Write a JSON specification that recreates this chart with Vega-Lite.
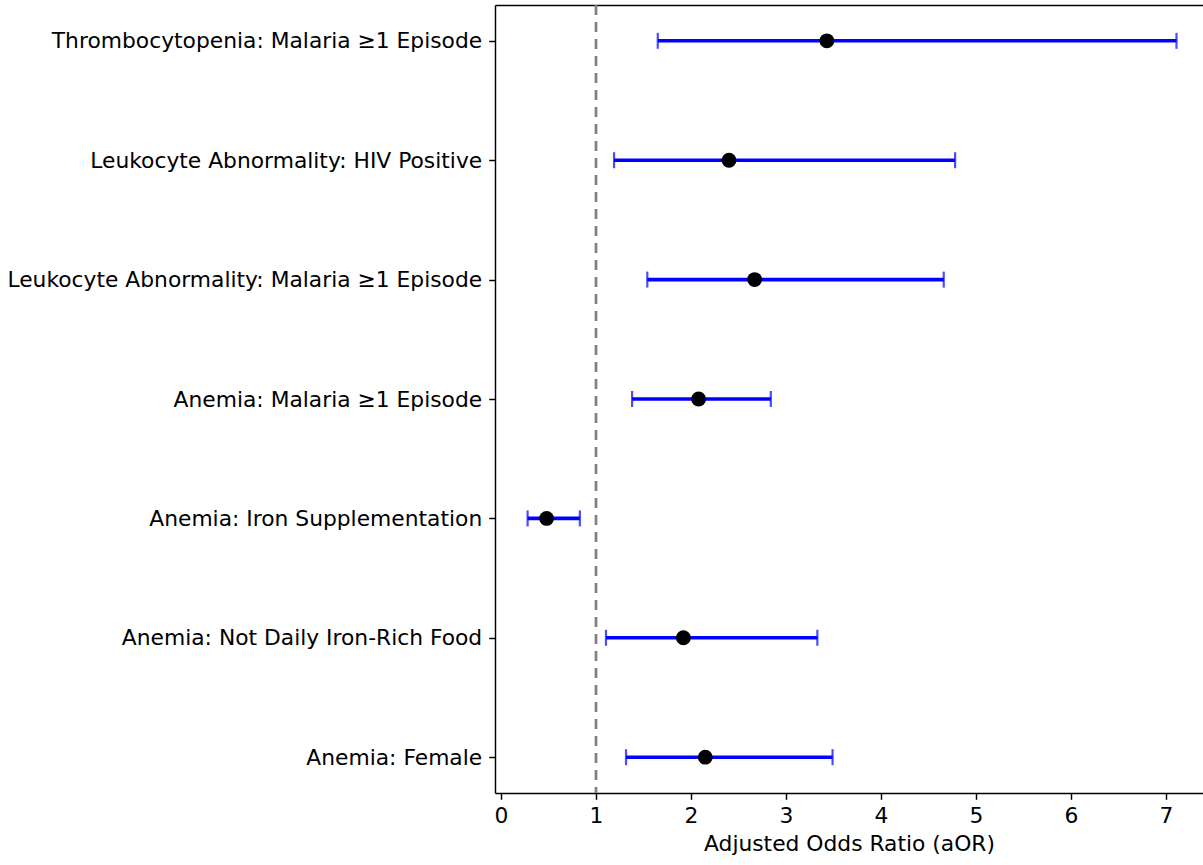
{
  "$schema": "https://vega.github.io/schema/vega-lite/v6.json",
  "width": 708,
  "height": 788,
  "autosize": {"type": "none"},
  "padding": {"left": 495, "top": 5, "right": 0, "bottom": 72},
  "background": "white",
  "config": {
    "view": {"stroke": null},
    "font": "DejaVu Sans",
    "axis": {
      "labelFont": "DejaVu Sans",
      "titleFont": "DejaVu Sans",
      "labelColor": "black",
      "titleColor": "black",
      "domainColor": "black",
      "tickColor": "black",
      "grid": false,
      "labelFontSize": 21.8,
      "titleFontSize": 21.8,
      "titleFontWeight": "normal",
      "tickSize": 6.3,
      "domainWidth": 1.45,
      "tickWidth": 1.45
    }
  },
  "data": {
    "values": [
      {"label": "Thrombocytopenia: Malaria ≥1 Episode", "aor": 3.43, "low": 1.65, "high": 7.11},
      {"label": "Leukocyte Abnormality: HIV Positive", "aor": 2.40, "low": 1.19, "high": 4.78},
      {"label": "Leukocyte Abnormality: Malaria ≥1 Episode", "aor": 2.67, "low": 1.54, "high": 4.66},
      {"label": "Anemia: Malaria ≥1 Episode", "aor": 2.08, "low": 1.38, "high": 2.84},
      {"label": "Anemia: Iron Supplementation", "aor": 0.48, "low": 0.28, "high": 0.83},
      {"label": "Anemia: Not Daily Iron-Rich Food", "aor": 1.92, "low": 1.105, "high": 3.33},
      {"label": "Anemia: Female", "aor": 2.15, "low": 1.316, "high": 3.49}
    ]
  },
  "layer": [
    {
      "data": {"values": [{"ref": 1}]},
      "mark": {"type": "rule", "color": "#808080", "strokeDash": [10, 7], "strokeWidth": 2.7},
      "encoding": {
        "x": {"field": "ref", "type": "quantitative", "scale": {"domain": [-0.063, 7.389], "nice": false, "zero": false},
          "axis": {"orient": "top", "labels": false, "ticks": false, "title": null, "domain": true}}
      }
    },
    {
      "mark": {"type": "rule", "color": "#0000ff", "strokeWidth": 3.6},
      "encoding": {
        "x": {"field": "low", "type": "quantitative", "scale": {"domain": [-0.063, 7.389], "nice": false, "zero": false},
          "axis": {"orient": "bottom", "values": [0, 1, 2, 3, 4, 5, 6, 7], "title": "Adjusted Odds Ratio (aOR)", "labelPadding": 6, "titlePadding": 6, "labelFlush": false}},
        "x2": {"field": "high"},
        "y": {"field": "label", "type": "nominal",
          "sort": ["Thrombocytopenia: Malaria ≥1 Episode", "Leukocyte Abnormality: HIV Positive", "Leukocyte Abnormality: Malaria ≥1 Episode", "Anemia: Malaria ≥1 Episode", "Anemia: Iron Supplementation", "Anemia: Not Daily Iron-Rich Food", "Anemia: Female"],
          "scale": {"type": "point", "padding": 0.3},
          "axis": {"title": null, "labelPadding": 7, "labelLimit": 0}}
      }
    },
    {
      "mark": {"type": "tick", "color": "#0000ff", "size": 16, "thickness": 2.2},
      "encoding": {
        "x": {"field": "low", "type": "quantitative", "axis": null},
        "y": {"field": "label", "type": "nominal", "sort": ["Thrombocytopenia: Malaria ≥1 Episode", "Leukocyte Abnormality: HIV Positive", "Leukocyte Abnormality: Malaria ≥1 Episode", "Anemia: Malaria ≥1 Episode", "Anemia: Iron Supplementation", "Anemia: Not Daily Iron-Rich Food", "Anemia: Female"]}
      }
    },
    {
      "mark": {"type": "tick", "color": "#0000ff", "size": 16, "thickness": 2.2},
      "encoding": {
        "x": {"field": "high", "type": "quantitative", "axis": null},
        "y": {"field": "label", "type": "nominal", "sort": ["Thrombocytopenia: Malaria ≥1 Episode", "Leukocyte Abnormality: HIV Positive", "Leukocyte Abnormality: Malaria ≥1 Episode", "Anemia: Malaria ≥1 Episode", "Anemia: Iron Supplementation", "Anemia: Not Daily Iron-Rich Food", "Anemia: Female"]}
      }
    },
    {
      "mark": {"type": "circle", "color": "black", "opacity": 1, "size": 220},
      "encoding": {
        "x": {"field": "aor", "type": "quantitative", "axis": null},
        "y": {"field": "label", "type": "nominal", "sort": ["Thrombocytopenia: Malaria ≥1 Episode", "Leukocyte Abnormality: HIV Positive", "Leukocyte Abnormality: Malaria ≥1 Episode", "Anemia: Malaria ≥1 Episode", "Anemia: Iron Supplementation", "Anemia: Not Daily Iron-Rich Food", "Anemia: Female"]}
      }
    }
  ],
  "resolve": {"axis": {"x": "independent"}}
}
